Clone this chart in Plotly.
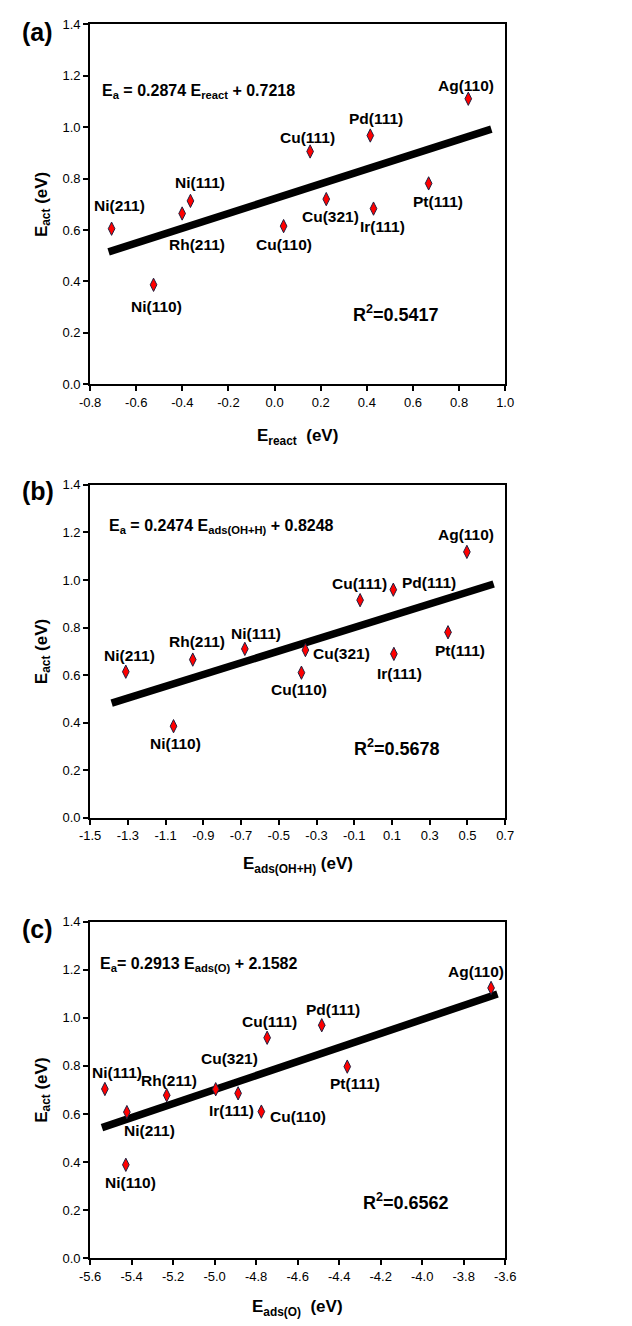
import plotly.graph_objects as go

W, H = 632, 1326

# ---------------- data ----------------
labels_a = ["Ni(211)", "Rh(211)", "Ni(111)", "Ni(110)", "Cu(110)", "Cu(111)",
            "Cu(321)", "Ir(111)", "Pd(111)", "Pt(111)", "Ag(110)"]
x_a = [-0.707, -0.401, -0.365, -0.525, 0.039, 0.154, 0.224, 0.429, 0.415, 0.668, 0.840]
y_a = [0.605, 0.664, 0.713, 0.387, 0.615, 0.905, 0.720, 0.683, 0.967, 0.781, 1.110]

labels_b = ["Ni(211)", "Rh(211)", "Ni(111)", "Ni(110)", "Cu(110)", "Cu(321)",
            "Ir(111)", "Cu(111)", "Pd(111)", "Pt(111)", "Ag(110)"]
x_b = [-1.311, -0.956, -0.680, -1.058, -0.380, -0.359, 0.110, -0.069, 0.107, 0.397, 0.497]
y_b = [0.614, 0.665, 0.710, 0.385, 0.610, 0.705, 0.689, 0.915, 0.959, 0.780, 1.118]

labels_c = ["Ni(111)", "Rh(211)", "Cu(321)", "Cu(111)", "Pd(111)", "Pt(111)",
            "Ag(110)", "Ni(211)", "Ni(110)", "Ir(111)", "Cu(110)"]
x_c = [-5.529, -5.231, -4.995, -4.747, -4.484, -4.361, -3.668, -5.423, -5.428, -4.887, -4.775]
y_c = [0.704, 0.678, 0.703, 0.917, 0.969, 0.797, 1.124, 0.608, 0.389, 0.686, 0.610]

# regression lines (slope, intercept, x extent)
fit_a = (0.2874, 0.7218, [-0.72, 0.94])
fit_b = (0.2474, 0.8248, [-1.386, 0.639])
fit_c = (0.2913, 2.1582, [-5.543, -3.637])

r2_a, r2_b, r2_c = "0.5417", "0.5678", "0.6562"

y_ticks = [0.0, 0.2, 0.4, 0.6, 0.8, 1.0, 1.2, 1.4]
xt_a = [-0.8, -0.6, -0.4, -0.2, 0.0, 0.2, 0.4, 0.6, 0.8, 1.0]
xt_b = [-1.5, -1.3, -1.1, -0.9, -0.7, -0.5, -0.3, -0.1, 0.1, 0.3, 0.5, 0.7]
xt_c = [-5.6, -5.4, -5.2, -5.0, -4.8, -4.6, -4.4, -4.2, -4.0, -3.8, -3.6]

# ---------------- layout helpers ----------------
# label offsets in px (xshift, yshift, xanchor)
off_a = {"Ni(211)": (8, 23, "center"), "Rh(211)": (15, -31, "center"),
         "Ni(111)": (10, 18, "center"), "Ni(110)": (3, -22, "center"),
         "Cu(110)": (0, -18, "center"), "Cu(111)": (-3, 14, "center"),
         "Cu(321)": (4, -17, "center"), "Ir(111)": (9, -18, "center"),
         "Pd(111)": (6, 17, "center"), "Pt(111)": (9, -18, "center"),
         "Ag(110)": (-2, 13, "center")}
off_b = {"Ni(211)": (4, 16, "center"), "Rh(211)": (4, 18, "center"),
         "Ni(111)": (11, 15, "center"), "Ni(110)": (2, -17, "center"),
         "Cu(110)": (-2, -17, "center"), "Cu(321)": (6, -3, "left"),
         "Ir(111)": (6, -20, "center"), "Cu(111)": (-1, 17, "center"),
         "Pd(111)": (7, 7, "left"), "Pt(111)": (12, -18, "center"),
         "Ag(110)": (-1, 17, "center")}
off_c = {"Ni(111)": (12, 16, "center"), "Rh(211)": (2, 15, "center"),
         "Cu(321)": (14, 31, "center"), "Cu(111)": (2, 16, "center"),
         "Pd(111)": (11, 16, "center"), "Pt(111)": (8, -17, "center"),
         "Ag(110)": (-15, 16, "center"), "Ni(211)": (23, -18, "center"),
         "Ni(110)": (5, -18, "center"), "Ir(111)": (-7, -17, "center"),
         "Cu(110)": (7, -5, "left")}

FONT = "Arial, Liberation Sans, sans-serif"

def px2x(p):
    return p / W

def px2y(p):
    return 1 - p / H

x_dom = [px2x(82), px2x(512)]
panels = [
    dict(lab=labels_a, x=x_a, y=y_a, fit=fit_a, xt=xt_a, off=off_a, top=17.3, bot=381.7,
         tag="(a)", tag_y=25,
         eq="<b>E<sub>a</sub> = 0.2874 E<sub>react</sub> + 0.7218</b>", eq_x=92, eq_y=85,
         r2=r2_a, r2_x=399, r2_y=310,
         xtitle="<b>E<sub>react</sub>  (eV)</b>", xt_y=435),
    dict(lab=labels_b, x=x_b, y=y_b, fit=fit_b, xt=xt_b, off=off_b, top=483.3, bot=820,
         tag="(b)", tag_y=490,
         eq="<b>E<sub>a</sub> = 0.2474 E<sub>ads(OH+H)</sub> + 0.8248</b>", eq_x=99, eq_y=525,
         r2=r2_b, r2_x=400, r2_y=749,
         xtitle="<b>E<sub>ads(OH+H)</sub> (eV)</b>", xt_y=868),
    dict(lab=labels_c, x=x_c, y=y_c, fit=fit_c, xt=xt_c, off=off_c, top=925, bot=1265.7,
         tag="(c)", tag_y=933,
         eq="<b>E<sub>a</sub>= 0.2913 E<sub>ads(O)</sub> + 2.1582</b>", eq_x=90, eq_y=968,
         r2=r2_c, r2_x=409, r2_y=1208,
         xtitle="<b>E<sub>ads(O)</sub>  (eV)</b>", xt_y=1316),
]

fig = go.Figure()
annotations = []

def fmt(v):
    return f"{v:.1f}"

for i, p in enumerate(panels, start=1):
    xa = "x" if i == 1 else f"x{i}"
    ya = "y" if i == 1 else f"y{i}"
    slope, icpt, xr = p["fit"]
    fig.add_trace(go.Scatter(
        x=xr, y=[slope * v + icpt for v in xr], mode="lines",
        line=dict(color="black", width=7.5), xaxis=xa, yaxis=ya,
        showlegend=False, hoverinfo="skip"))
    fig.add_trace(go.Scatter(
        x=p["x"], y=p["y"], mode="markers", text=p["lab"],
        marker=dict(symbol="diamond-tall", size=9.5, color="#ff0000",
                    line=dict(color="#202040", width=1)),
        xaxis=xa, yaxis=ya, showlegend=False))

    axis_common = dict(showline=True, mirror=True, linecolor="black", linewidth=2,
                       ticks="outside", ticklen=5, tickwidth=1.5, tickcolor="black",
                       showgrid=False, zeroline=False,
                       tickfont=dict(family=FONT, size=13, color="black"))
    xr_ = [p["xt"][0], p["xt"][-1]]
    fig.layout[f"xaxis{'' if i == 1 else i}"] = dict(
        domain=x_dom, range=xr_, anchor=ya, tickmode="array",
        tickvals=p["xt"], ticktext=[fmt(v) for v in p["xt"]], **axis_common)
    fig.layout[f"yaxis{'' if i == 1 else i}"] = dict(
        domain=[px2y(p["bot"]), px2y(p["top"])], range=[0, 1.4], anchor=xa,
        tickmode="array", tickvals=y_ticks, ticktext=[fmt(v) for v in y_ticks],
        **axis_common)

    # point labels
    for name, xv, yv in zip(p["lab"], p["x"], p["y"]):
        dx, dy, anc = p["off"][name]
        annotations.append(dict(
            x=xv, y=yv, xref=xa, yref=ya, text=f"<b>{name}</b>", showarrow=False,
            xshift=dx, yshift=dy, xanchor=anc, yanchor="middle",
            font=dict(family=FONT, size=15.5, color="black")))
    # equation
    annotations.append(dict(x=px2x(p["eq_x"]), y=px2y(p["eq_y"]), xref="paper", yref="paper",
                            text=p["eq"], showarrow=False, xanchor="left", yanchor="middle",
                            font=dict(family=FONT, size=16, color="black")))
    # R^2
    annotations.append(dict(x=px2x(p["r2_x"]), y=px2y(p["r2_y"]), xref="paper", yref="paper",
                            text=f"<b>R<sup>2</sup>={p['r2']}</b>", showarrow=False,
                            xanchor="center", yanchor="middle",
                            font=dict(family=FONT, size=18, color="black")))
    # panel tag
    annotations.append(dict(x=px2x(27.5), y=px2y(p["tag_y"]), xref="paper", yref="paper",
                            text=f"<b>{p['tag']}</b>", showarrow=False,
                            xanchor="center", yanchor="middle",
                            font=dict(family=FONT, size=25, color="black")))
    # x title
    annotations.append(dict(x=px2x(297), y=px2y(p["xt_y"]), xref="paper", yref="paper",
                            text=p["xtitle"], showarrow=False,
                            xanchor="center", yanchor="middle",
                            font=dict(family=FONT, size=17, color="black")))
    # y title
    annotations.append(dict(x=px2x(33), y=px2y((p["top"] + p["bot"]) / 2), xref="paper",
                            yref="paper", text="<b>E<sub>act</sub> (eV)</b>", showarrow=False,
                            textangle=-90, xanchor="center", yanchor="middle",
                            font=dict(family=FONT, size=17, color="black")))

fig.update_layout(width=W, height=H, margin=dict(l=0, r=0, t=0, b=0),
                  paper_bgcolor="white", plot_bgcolor="white",
                  annotations=annotations, showlegend=False)

fig.write_html("out.html", config={"displayModeBar": False},
               post_script="document.body.style.margin='0';")
